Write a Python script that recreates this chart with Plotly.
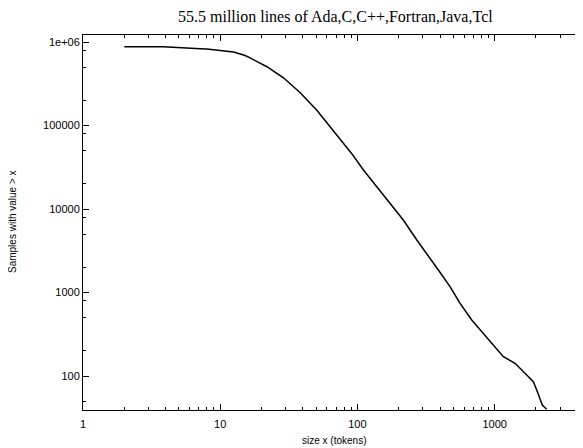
import plotly.graph_objects as go

# Complementary cumulative distribution: samples with value > x
size_tokens = [2, 3.85, 7.15, 8, 12.5, 15.2, 16.5, 21.9, 28.9, 38.3, 50.6, 58.2, 74.8, 91,
               110.6, 138, 173, 216, 271, 320, 389, 473, 560, 681, 1007, 1157, 1409,
               1714, 1915, 2027, 2225, 2395]
samples_gt = [880000, 878000, 832000, 824000, 759000, 690000, 645000, 506000, 373000,
              247000, 152000, 114000, 70000, 46000, 29300, 18500, 11700, 7380, 4250,
              2950, 1860, 1175, 741, 469, 224, 170, 142, 103, 85.5, 68, 45, 40]

x_tickvals = [1, 10, 100, 1000]
x_ticktext = ["1", "10", "100", "1000"]
y_tickvals = [100, 1000, 10000, 100000, 1000000]
y_ticktext = ["100", "1000", "10000", "100000", "1e+06"]
y_minor_vals = [50, 200, 500, 800, 2000, 5000, 8000, 20000, 50000, 80000,
                200000, 500000, 800000]

title_text = "55.5 million lines of Ada,C,C++,Fortran,Java,Tcl"
x_title = "size x (tokens)"
y_title = "Samples with value > x"

fig = go.Figure()
fig.add_trace(go.Scatter(x=size_tokens, y=samples_gt, mode="lines",
                         line=dict(color="black", width=1.5), showlegend=False))

OFF = 8  # page body margin offset
W, H = 583 - OFF, 448 - OFF
ml, mr, mt, mb = 83 - OFF, 0, 35 - OFF, 448 - 410
pw, ph = W - ml - mr, H - mt - mb


def px(xp):
    return (xp - OFF - ml) / pw


def py(yp):
    return (H - mb - (yp - OFF)) / ph


fig.update_layout(
    width=W, height=H,
    margin=dict(l=ml, r=mr, t=mt, b=mb, autoexpand=False),
    paper_bgcolor="white", plot_bgcolor="white",
    font=dict(family="Liberation Sans", size=11, color="black"),
)
fig.add_annotation(text=title_text, xref="paper", yref="paper", x=px(335), y=py(17),
                   xanchor="center", yanchor="middle", showarrow=False,
                   font=dict(family="Liberation Serif", size=16, color="black"))
fig.add_annotation(text=x_title, xref="paper", yref="paper", x=px(334), y=py(440),
                   xanchor="center", yanchor="middle", showarrow=False,
                   font=dict(family="Liberation Sans", size=10, color="black"))
fig.add_annotation(text=y_title, xref="paper", yref="paper", x=px(12), y=py(222),
                   xanchor="center", yanchor="middle", showarrow=False, textangle=-90,
                   font=dict(family="Liberation Sans", size=10, color="black"))
fig.update_xaxes(
    type="log", range=[0, 3.644], tickmode="array", tickvals=x_tickvals, ticktext=x_ticktext,
    ticks="inside", ticklen=6, tickwidth=1, tickcolor="black", ticklabelstandoff=4,
    showline=True, linecolor="black", linewidth=1, mirror="ticks",
    showgrid=False, zeroline=False, automargin=False,
    minor=dict(ticks="inside", ticklen=3, tickcolor="black", dtick="D1", showgrid=False),
    tickfont=dict(family="Liberation Sans", size=11, color="black"),
)
fig.update_yaxes(
    type="log", range=[1.593, 6.084], tickmode="array", tickvals=y_tickvals, ticktext=y_ticktext,
    ticks="inside", ticklen=6, tickwidth=1, tickcolor="black",
    showline=True, linecolor="black", linewidth=1, mirror="ticks",
    showgrid=False, zeroline=False, automargin=False,
    minor=dict(ticks="inside", ticklen=3, tickcolor="black", tickmode="array",
               tickvals=y_minor_vals, showgrid=False),
    tickfont=dict(family="Liberation Sans", size=11, color="black"),
)

fig.write_html("out.html")
